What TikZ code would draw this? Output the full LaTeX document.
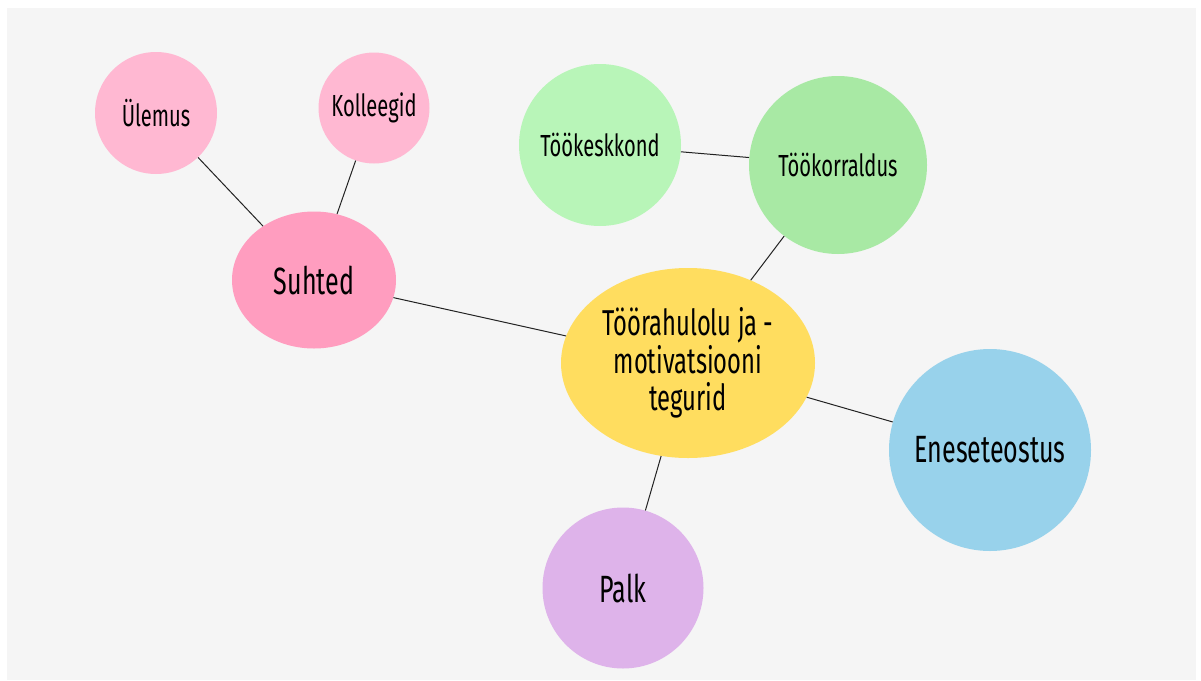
\documentclass[tikz,border=0pt]{standalone}
\usepackage{fontspec}
\setmainfont{Fira Sans}[FakeStretch=0.66]
\usetikzlibrary{shapes.geometric}
\definecolor{bg}{HTML}{F5F5F5}
\definecolor{pinklight}{HTML}{FFB8D2}
\definecolor{pinkdark}{HTML}{FF9DBF}
\definecolor{greenlight}{HTML}{B8F5B8}
\definecolor{greendark}{HTML}{A8E9A4}
\definecolor{yellowc}{HTML}{FFDD5F}
\definecolor{bluec}{HTML}{98D2EB}
\definecolor{purplec}{HTML}{DEB3EA}
\definecolor{edgec}{HTML}{222222}
\tikzset{
  bubble/.style={circle, inner sep=0pt, text=black, align=center},
  oval/.style={ellipse, inner sep=0pt, text=black, align=center},
  small/.style={font=\fontsize{30.5}{34}\selectfont},
  big/.style={font=\fontsize{38}{41}\selectfont},
  link/.style={draw=edgec, line width=1pt}
}
\begin{document}
\begin{tikzpicture}[x=1pt,y=-1pt]
\useasboundingbox (0,0) rectangle (1201,680);
\fill[bg] (7,8) rectangle (1196,680);

\node[bubble, small, fill=pinklight, minimum size=122pt] (ulemus) at (156,113) {Ülemus};
\node[bubble, small, fill=pinklight, minimum size=111pt] (kolleegid) at (374,108) {Kolleegid};
\node[oval, big, fill=pinkdark, minimum width=164pt, minimum height=137pt] (suhted) at (314,280) {Suhted};
\node[bubble, small, fill=greenlight, minimum size=162pt] (keskkond) at (600,145) {Töökeskkond};
\node[bubble, small, fill=greendark, minimum size=178pt] (korraldus) at (838,165) {Töökorraldus};
\node[oval, fill=yellowc, minimum width=254pt, minimum height=190pt, font=\fontsize{36}{37.5}\selectfont] (central) at (688,363) {Töörahulolu ja -\\motivatsiooni\\tegurid};
\node[bubble, big, fill=bluec, minimum size=202pt] (enese) at (990,450) {Eneseteostus};
\node[bubble, big, fill=purplec, minimum size=161pt] (palk) at (623,588) {Palk};

\draw[link] (ulemus) -- (suhted);
\draw[link] (kolleegid) -- (suhted);
\draw[link] (suhted) -- (central);
\draw[link] (keskkond) -- (korraldus);
\draw[link] (korraldus) -- (central);
\draw[link] (central) -- (enese);
\draw[link] (central) -- (palk);
\end{tikzpicture}
\end{document}
